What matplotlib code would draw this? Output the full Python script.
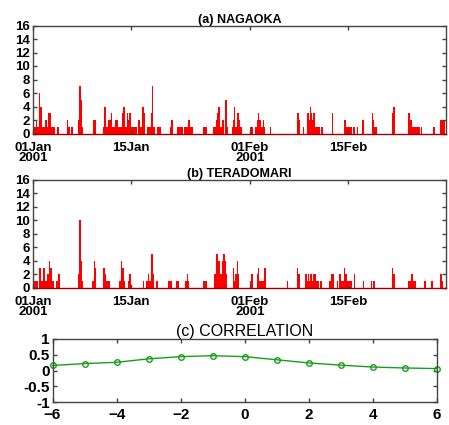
"""Hourly precipitation at Nagaoka and Teradomari (Jan-Feb 2001)
    and the lagged correlation between the two stations."""

import matplotlib
matplotlib.use("Agg")
from matplotlib import pyplot as plt

# Rain spells: start day, end day (days since 01Jan 00h), value
naga_start = [0.00, 0.43, 0.62, 0.86, 1.00, 1.24, 1.71, 1.95, 2.19, 2.52, 3.48, 4.81, 5.05, 5.38,
              6.43, 6.57, 6.81, 6.95, 8.62, 10.05, 10.19, 10.38, 10.71, 11.10, 11.33, 11.67,
              12.10, 12.67, 12.86, 13.10, 13.38, 13.57, 13.76, 14.00, 15.00, 15.29, 15.62,
              15.81, 16.24, 16.81, 16.95, 17.19, 17.67, 19.57, 19.76, 20.52, 21.57, 22.19,
              22.38, 24.33, 25.76, 26.14, 26.33, 26.48, 26.71, 27.00, 27.38, 27.67, 28.38,
              28.52, 28.71, 28.90, 29.19, 29.38, 29.57, 31.00, 31.71, 31.95, 32.14, 32.33,
              32.62, 32.81, 33.00, 33.86, 37.76, 37.95, 38.52, 39.19, 39.38, 39.57, 39.71,
              39.86, 40.05, 40.29, 41.10, 42.67, 44.43, 44.71, 45.76, 46.24, 47.05, 48.38,
              48.52, 48.71, 51.24, 51.48, 53.62, 53.86, 54.10, 55.43, 57.19, 58.14]
naga_end = [0.43, 0.62, 0.86, 1.00, 1.24, 1.71, 1.95, 2.19, 2.52, 3.14, 3.76, 5.05, 5.29, 5.67,
            6.57, 6.81, 6.95, 7.10, 9.00, 10.19, 10.38, 10.71, 11.10, 11.33, 11.67, 12.10,
            12.67, 12.86, 13.10, 13.38, 13.57, 13.76, 14.00, 14.81, 15.29, 15.62, 15.81,
            16.05, 16.81, 16.95, 17.19, 17.38, 18.24, 19.76, 20.00, 21.48, 22.19, 22.38,
            22.81, 24.81, 26.14, 26.33, 26.48, 26.71, 27.00, 27.29, 27.67, 27.90, 28.52,
            28.71, 28.90, 29.19, 29.38, 29.57, 29.86, 31.48, 31.95, 32.14, 32.33, 32.52,
            32.81, 33.00, 33.14, 34.00, 37.95, 38.14, 38.76, 39.38, 39.57, 39.71, 39.86,
            40.05, 40.29, 41.00, 41.48, 42.90, 44.71, 45.52, 46.00, 46.48, 47.24, 48.52,
            48.71, 49.10, 51.48, 51.71, 53.86, 54.10, 55.29, 55.62, 57.48, 58.86]
naga_val = [1, 2, 1, 6, 4, 1, 2, 1, 3, 1, 1, 2, 1, 1,
            2, 7, 5, 1, 2, 1, 4, 1, 2, 3, 1, 2,
            1, 3, 4, 1, 3, 2, 3, 1, 2, 1, 4,
            3, 1, 3, 7, 1, 1, 1, 2, 1, 1, 2,
            1, 1, 1, 2, 3, 4, 1, 2, 5, 1, 1,
            2, 4, 1, 3, 2, 1, 1, 1, 2, 3, 2,
            1, 2, 1, 1, 3, 2, 1, 3, 2, 4, 3,
            2, 3, 1, 1, 3, 2, 1, 1, 1, 2, 3,
            2, 1, 3, 4, 3, 2, 1, 1, 1, 2]

tera_start = [0.19, 0.90, 1.10, 1.38, 1.67, 1.95, 2.29, 2.48, 2.76, 3.29, 3.62, 6.38, 6.57, 6.81,
              6.95, 8.43, 8.67, 8.86, 10.05, 10.24, 10.43, 12.29, 12.57, 12.76, 12.95, 13.57,
              13.76, 15.67, 16.14, 16.43, 16.62, 16.86, 17.14, 17.57, 19.33, 20.43, 21.67,
              21.95, 22.19, 24.24, 25.86, 26.14, 26.48, 26.71, 26.95, 27.19, 27.38, 27.57,
              28.52, 28.71, 28.90, 29.10, 29.33, 31.00, 31.19, 31.95, 32.19, 32.33, 33.00,
              36.24, 37.67, 37.90, 38.90, 39.19, 39.29, 39.48, 39.62, 39.86, 40.00, 40.43,
              41.05, 42.33, 42.57, 43.38, 43.71, 43.95, 44.43, 44.62, 44.81, 45.86, 47.10,
              48.24, 48.62, 51.24, 51.48, 53.62, 53.95, 54.33, 55.86, 56.86, 58.14, 58.38]
tera_end = [0.76, 1.10, 1.38, 1.67, 1.95, 2.29, 2.48, 2.76, 3.00, 3.62, 3.90, 6.57, 6.81, 6.95,
            7.10, 8.67, 8.86, 9.00, 10.24, 10.43, 11.00, 12.57, 12.76, 12.95, 13.19, 13.76,
            13.95, 15.90, 16.43, 16.62, 16.86, 17.14, 17.29, 17.81, 19.81, 20.90, 21.95,
            22.19, 22.33, 24.81, 26.14, 26.48, 26.71, 26.95, 27.19, 27.38, 27.57, 27.76,
            28.71, 28.90, 29.10, 29.33, 29.48, 31.19, 31.38, 32.19, 32.33, 33.00, 33.24,
            36.48, 37.90, 38.14, 39.19, 39.29, 39.48, 39.62, 39.86, 40.00, 40.43, 40.81,
            41.29, 42.57, 42.95, 43.62, 43.95, 44.43, 44.62, 44.81, 45.52, 46.05, 47.29,
            48.43, 48.86, 51.48, 51.71, 53.95, 54.33, 54.71, 56.14, 57.10, 58.38, 58.52]
tera_val = [1, 3, 1, 3, 1, 2, 4, 3, 1, 1, 2, 2, 10, 4,
            1, 1, 4, 3, 3, 2, 1, 1, 4, 3, 1, 1,
            2, 1, 1, 2, 1, 5, 2, 1, 1, 1, 1,
            2, 1, 1, 2, 5, 4, 2, 4, 5, 4, 2,
            3, 1, 2, 4, 2, 1, 2, 2, 3, 1, 3,
            1, 3, 2, 2, 1, 2, 1, 2, 1, 2, 1,
            1, 1, 2, 1, 2, 1, 3, 2, 1, 2, 1,
            1, 1, 3, 2, 1, 2, 1, 1, 1, 2, 1]

date_ticks = [0, 14, 31, 45]
date_labels = ["01Jan\n2001", "15Jan", "01Feb\n2001", "15Feb"]

lags = [-6, -5, -4, -3, -2, -1, 0, 1, 2, 3, 4, 5, 6]
corr = [0.16, 0.22, 0.26, 0.37, 0.44, 0.47, 0.44, 0.34, 0.24, 0.17, 0.11, 0.08, 0.06]

plt.rcParams['font.family'] = ['Liberation Sans', 'DejaVu Sans']

W, H = 449, 425
fig = plt.figure(figsize=(W / 100, H / 100), dpi=100)


def px_axes(left, top, right, bottom):
    """Adds axes given pixel edges of the picture"""
    return fig.add_axes([left / W, 1 - bottom / H, (right - left) / W, (bottom - top) / H])


def style_axes(ax):
    """Thin grey frame with inward ticks on all four sides"""
    for side in ax.spines.values():
        side.set_color('#444444')
        side.set_linewidth(1.0)
    ax.tick_params(direction='in', length=3, width=1, color='#444444',
                   top=True, right=True, labelsize=9.5, pad=2)
    for lab in ax.get_xticklabels() + ax.get_yticklabels():
        lab.set_fontweight('bold')


def rain_panel(ax, start, end, val, title):
    widths = [e - s for s, e in zip(start, end)]
    ax.bar(start, val, width=widths, align='edge', color='red', linewidth=0)
    ax.set_xlim(0, 59)
    ax.set_ylim(0, 16)
    ax.set_yticks(range(0, 17, 2))
    ax.set_xticks(date_ticks)
    ax.set_xticklabels(date_labels, linespacing=0.75)
    style_axes(ax)
    ax.tick_params(axis='x', pad=6)
    ax.spines['bottom'].set_color('#a00000')
    ax.set_title(title, fontsize=9, fontweight='bold', pad=2)


ax_a = px_axes(33, 25.5, 446, 133.5)
rain_panel(ax_a, naga_start, naga_end, naga_val, '(a) NAGAOKA')

ax_b = px_axes(33, 179.5, 446, 288)
rain_panel(ax_b, tera_start, tera_end, tera_val, '(b) TERADOMARI')

ax_c = px_axes(52.5, 339, 437, 402)
ax_c.plot(lags, corr, color='#1a9e1a', linewidth=1.0, marker='o', markersize=4,
          markerfacecolor='none', markeredgewidth=1.0, clip_on=False)
ax_c.set_xlim(-6, 6)
ax_c.set_ylim(-1, 1)
ax_c.set_xticks(range(-6, 7, 2))
ax_c.set_yticks([-1, -0.5, 0, 0.5, 1])
ax_c.set_yticklabels(['-1', '-0.5', '0', '0.5', '1'])
style_axes(ax_c)
ax_c.tick_params(axis='x', pad=4, labelsize=11)
ax_c.tick_params(axis='y', labelsize=11)
ax_c.set_title('(c) CORRELATION', fontsize=11.5, pad=2)

fig.savefig("out.png", dpi=100)
